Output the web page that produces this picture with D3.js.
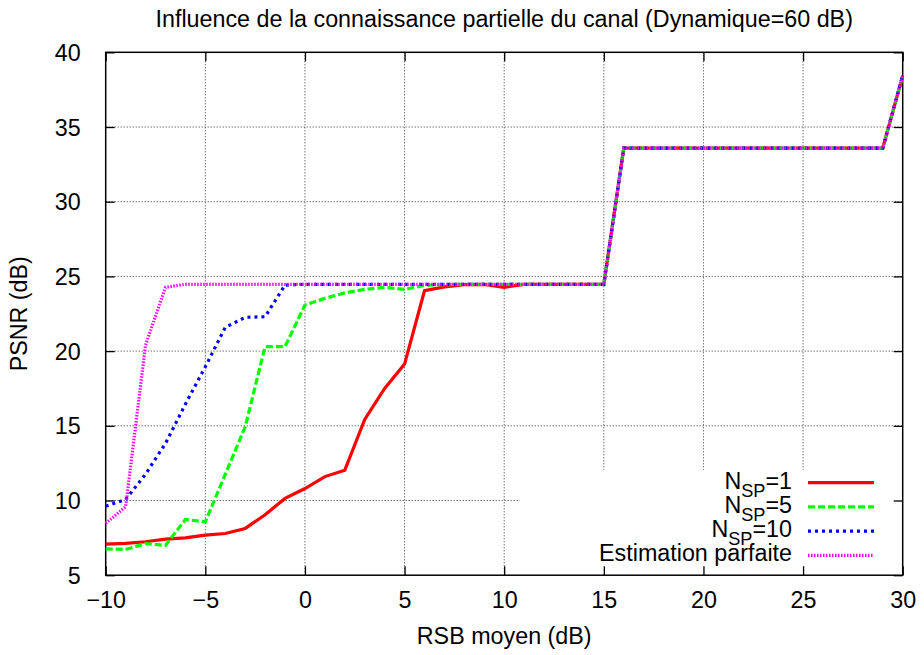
<!DOCTYPE html>
<html>
<head>
<meta charset="utf-8">
<script src="https://cdn.jsdelivr.net/npm/d3@7"></script>
<style>
  html, body { margin: 0; padding: 0; background: #fff; }
  svg { display: block; font-family: "Liberation Sans", Arial, Helvetica, sans-serif; }
</style>
</head>
<body>
<svg id="chart" width="924" height="655"></svg>
<script>
// ---- data ----
const snr = [-10,-9,-8,-7,-6,-5,-4,-3,-2,-1,0,1,2,3,4,5,6,7,8,9,10,11,12,13,14,15,16,17,18,19,20,21,22,23,24,25,26,27,28,29,30];
const nsp1 = [7.08,7.13,7.24,7.41,7.5,7.68,7.79,8.13,9.05,10.14,10.8,11.6,12.03,15.43,17.5,19.13,24.04,24.3,24.45,24.47,24.27,24.47,24.47,24.47,24.47,24.47,33.58,33.58,33.58,33.58,33.58,33.58,33.58,33.58,33.58,33.58,33.58,33.58,33.58,33.58,38.44];
const nsp5 = [6.76,6.72,7.12,6.99,8.73,8.57,11.75,14.93,20.3,20.3,23.08,23.53,23.9,24.13,24.27,24.13,24.4,24.45,24.47,24.47,24.47,24.47,24.47,24.47,24.47,24.47,33.58,33.58,33.58,33.58,33.58,33.58,33.58,33.58,33.58,33.58,33.58,33.58,33.58,33.58,38.44];
const nsp10 = [9.62,10.07,11.76,13.82,16.45,18.95,21.59,22.26,22.3,24.42,24.47,24.47,24.47,24.47,24.47,24.47,24.47,24.47,24.47,24.47,24.47,24.47,24.47,24.47,24.47,24.47,33.58,33.58,33.58,33.58,33.58,33.58,33.58,33.58,33.58,33.58,33.58,33.58,33.58,33.58,38.44];
const parfaite = [8.46,9.58,20.4,24.27,24.47,24.47,24.47,24.47,24.47,24.47,24.47,24.47,24.47,24.47,24.47,24.47,24.47,24.47,24.47,24.47,24.47,24.47,24.47,24.47,24.47,24.47,33.58,33.58,33.58,33.58,33.58,33.58,33.58,33.58,33.58,33.58,33.58,33.58,33.58,33.58,38.44];
const xTicks = [-10,-5,0,5,10,15,20,25,30];
const yTicks = [5,10,15,20,25,30,35,40];
const seriesNames = ["1","5","10","Estimation parfaite"];
const title = "Influence de la connaissance partielle du canal (Dynamique=60 dB)";
const xLabel = "RSB moyen (dB)";
const yLabel = "PSNR (dB)";

// ---- layout ----
const L = 105.7, R = 902.7, T = 52.3, B = 575.2;
const fs = 23.3;
const svg = d3.select("#chart");
const x = d3.scaleLinear().domain([-10, 30]).range([L, R]);
const y = d3.scaleLinear().domain([5, 40]).range([B, T]);

const styles = [
  {color: "#ff0000", dash: null, data: nsp1},
  {color: "#00ff00", dash: "7,3", data: nsp5},
  {color: "#0000ff", dash: "3,4", data: nsp10},
  {color: "#ff00ff", dash: "1.5,1.5", data: parfaite}
];

// grid
const grid = svg.append("g").attr("stroke", "#333").attr("stroke-width", 1).attr("stroke-dasharray", "1,2");
xTicks.slice(1, -1).forEach(v => {
  grid.append("line").attr("x1", x(v)).attr("x2", x(v)).attr("y1", T).attr("y2", B);
});
yTicks.slice(1, -1).forEach(v => {
  grid.append("line").attr("x1", L).attr("x2", R).attr("y1", y(v)).attr("y2", y(v));
});

// key background (hides grid)
const keyBox = {x0: 520, y0: 470};
svg.append("rect").attr("x", keyBox.x0).attr("y", keyBox.y0)
  .attr("width", R - keyBox.x0).attr("height", B - keyBox.y0).attr("fill", "#fff");

// axes with mirrored inward ticks
const tl = 9;
const fmt = d3.format("");
const axB = svg.append("g").attr("transform", `translate(0,${B})`)
  .call(d3.axisBottom(x).tickValues(xTicks).tickSizeInner(-tl).tickSizeOuter(0).tickPadding(tl + 9).tickFormat(fmt));
const axT = svg.append("g").attr("transform", `translate(0,${T})`)
  .call(d3.axisTop(x).tickValues(xTicks).tickSizeInner(-tl).tickSizeOuter(0).tickFormat(""));
const axL = svg.append("g").attr("transform", `translate(${L},0)`)
  .call(d3.axisLeft(y).tickValues(yTicks).tickSizeInner(-tl).tickSizeOuter(0).tickPadding(tl + 16).tickFormat(fmt));
const axR = svg.append("g").attr("transform", `translate(${R},0)`)
  .call(d3.axisRight(y).tickValues(yTicks).tickSizeInner(-tl).tickSizeOuter(0).tickFormat(""));
[axB, axT, axL, axR].forEach(a => {
  a.selectAll(".domain").remove();
  a.selectAll(".tick line").attr("stroke", "#000").attr("stroke-width", 1.3);
  a.selectAll("text").attr("font-size", fs).attr("font-family", "Liberation Sans, Arial, sans-serif").attr("fill", "#000");
});
axB.selectAll("text").attr("dy", null).attr("y", 33).attr("dominant-baseline", null);
axL.selectAll("text").attr("dy", "0.35em");
svg.append("rect").attr("x", L).attr("y", T).attr("width", R - L).attr("height", B - T)
  .attr("fill", "none").attr("stroke", "#000").attr("stroke-width", 1.5);

// curves
const line = d3.line().x((d, i) => x(snr[i])).y(d => y(d));
styles.forEach(s => {
  const p = svg.append("path").datum(s.data).attr("d", line)
    .attr("fill", "none").attr("stroke", s.color).attr("stroke-width", 3.2)
    .attr("stroke-linejoin", "miter").attr("stroke-linecap", "butt");
  if (s.dash) p.attr("stroke-dasharray", s.dash);
});

// legend
const lg = svg.append("g").attr("font-size", fs).attr("fill", "#000");
styles.forEach((s, i) => {
  const ly = 482.7 + i * 24.2;
  const t = lg.append("text").attr("x", 792).attr("y", ly + 6).attr("text-anchor", "end");
  if (i < 3) {
    t.append("tspan").text("N");
    t.append("tspan").attr("font-size", fs * 0.78).attr("dy", 8).text("SP");
    t.append("tspan").attr("dy", -8).text("=" + seriesNames[i]);
  } else {
    t.text(seriesNames[i]);
  }
  const ls = lg.append("line").attr("x1", 808).attr("x2", 874).attr("y1", ly).attr("y2", ly)
    .attr("stroke", s.color).attr("stroke-width", 3.2);
  if (s.dash) ls.attr("stroke-dasharray", s.dash);
});

// title and axis labels
svg.append("text").attr("x", (L + R) / 2).attr("y", 27).attr("text-anchor", "middle")
  .attr("font-size", fs).text(title);
svg.append("text").attr("x", (L + R) / 2).attr("y", 644).attr("text-anchor", "middle")
  .attr("font-size", fs).text(xLabel);
svg.append("text").attr("transform", `translate(27,${(T + B) / 2}) rotate(-90)`)
  .attr("text-anchor", "middle").attr("font-size", fs).text(yLabel);
</script>
</body>
</html>
